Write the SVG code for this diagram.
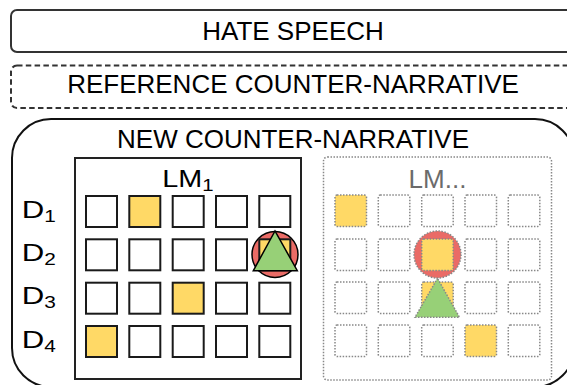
<svg xmlns="http://www.w3.org/2000/svg" width="567" height="385" viewBox="0 0 567 385">
<style>
.box{fill:#fff;stroke:#333;stroke-width:2}
.dashed{stroke-dasharray:5.5 3.3}
.big{stroke:#111;stroke-width:2;fill:#fff}
.t26{font-family:"Liberation Sans",Arial,Helvetica,sans-serif;font-size:26px;text-anchor:middle;fill:#000}
.lbl{font-family:"Liberation Sans",Arial,Helvetica,sans-serif;font-size:24px;fill:#000}
.cell{fill:#fff;stroke:#1a1a1a;stroke-width:2}
.dcell{fill:#fff;stroke:#888;stroke-width:1.5;stroke-dasharray:1.5 1.5}
.y{fill:#ffd966}
.red{fill:#ea6b66}
.green{fill:#97d077}
.solid{stroke:#000;stroke-width:1.5}
.dot{stroke:#888;stroke-width:1.5;stroke-dasharray:1.5 1.5}
</style>
<g id="hate-speech">
<rect class="box" x="11" y="10" width="564" height="42" rx="6"/>
<text class="t26" x="293" y="39.5">HATE SPEECH</text>
</g>
<g id="reference-counter-narrative">
<rect class="box dashed" x="11" y="65.5" width="564" height="42.5" rx="6"/>
<text class="t26" x="293" y="93.3">REFERENCE COUNTER-NARRATIVE</text>
</g>
<g id="new-counter-narrative">
<rect class="big" x="12" y="119" width="562" height="268" rx="39"/>
<text class="t26" x="293" y="148">NEW COUNTER-NARRATIVE</text>
</g>
<g id="labels">
<text class="lbl" transform="translate(21.8,217.5) scale(1.3,1)">D<tspan font-size="16" dy="4">1</tspan></text>
<text class="lbl" transform="translate(21.8,261) scale(1.3,1)">D<tspan font-size="16" dy="4">2</tspan></text>
<text class="lbl" transform="translate(21.8,304.3) scale(1.3,1)">D<tspan font-size="16" dy="4">3</tspan></text>
<text class="lbl" transform="translate(21.8,347.5) scale(1.3,1)">D<tspan font-size="16" dy="4">4</tspan></text>
</g>
<g id="lm1">
<rect x="75" y="158" width="226" height="221" fill="#fff" stroke="#222" stroke-width="2"/>
<text class="lbl" text-anchor="middle" font-size="23" transform="translate(188,186.5) scale(1.2,1)">LM<tspan font-size="17" dy="4.5">1</tspan></text>
<rect class="cell" x="86" y="196" width="31" height="31"/>
<rect class="cell y" x="129.3" y="196" width="31" height="31"/>
<rect class="cell" x="172.7" y="196" width="31" height="31"/>
<rect class="cell" x="216" y="196" width="31" height="31"/>
<rect class="cell" x="259.3" y="196" width="31" height="31"/>
<rect class="cell" x="86" y="239.3" width="31" height="31"/>
<rect class="cell" x="129.3" y="239.3" width="31" height="31"/>
<rect class="cell" x="172.7" y="239.3" width="31" height="31"/>
<rect class="cell" x="216" y="239.3" width="31" height="31"/>
<rect class="cell" x="86" y="282.7" width="31" height="31"/>
<rect class="cell" x="129.3" y="282.7" width="31" height="31"/>
<rect class="cell y" x="172.7" y="282.7" width="31" height="31"/>
<rect class="cell" x="216" y="282.7" width="31" height="31"/>
<rect class="cell" x="259.3" y="282.7" width="31" height="31"/>
<rect class="cell y" x="86" y="326" width="31" height="31"/>
<rect class="cell" x="129.3" y="326" width="31" height="31"/>
<rect class="cell" x="172.7" y="326" width="31" height="31"/>
<rect class="cell" x="216" y="326" width="31" height="31"/>
<rect class="cell" x="259.3" y="326" width="31" height="31"/>
<circle class="red solid" cx="275" cy="254.5" r="23"/>
<rect class="cell y" x="259.3" y="239.3" width="31" height="31"/>
<polygon class="green solid" points="275,231 253.3,270.7 297.3,270.7"/>
</g>
<g id="lm-more">
<rect x="323.5" y="157" width="228" height="223" rx="4" fill="#fff" class="dot"/>
<text class="t26" x="437.5" y="187.7" style="fill:#6b6b6b">LM...</text>
<rect class="dcell y" x="335" y="195" width="31.5" height="31.5" rx="2"/>
<rect class="dcell" x="378.3" y="195" width="31.5" height="31.5" rx="2"/>
<rect class="dcell" x="421.7" y="195" width="31.5" height="31.5" rx="2"/>
<rect class="dcell" x="465" y="195" width="31.5" height="31.5" rx="2"/>
<rect class="dcell" x="508.3" y="195" width="31.5" height="31.5" rx="2"/>
<rect class="dcell" x="335" y="239" width="31.5" height="31.5" rx="2"/>
<rect class="dcell" x="378.3" y="239" width="31.5" height="31.5" rx="2"/>
<rect class="dcell" x="465" y="239" width="31.5" height="31.5" rx="2"/>
<rect class="dcell" x="508.3" y="239" width="31.5" height="31.5" rx="2"/>
<rect class="dcell" x="335" y="282" width="31.5" height="31.5" rx="2"/>
<rect class="dcell" x="378.3" y="282" width="31.5" height="31.5" rx="2"/>
<rect class="dcell y" x="421.7" y="282" width="31.5" height="31.5" rx="2"/>
<rect class="dcell" x="465" y="282" width="31.5" height="31.5" rx="2"/>
<rect class="dcell" x="508.3" y="282" width="31.5" height="31.5" rx="2"/>
<rect class="dcell" x="335" y="325" width="31.5" height="31.5" rx="2"/>
<rect class="dcell" x="378.3" y="325" width="31.5" height="31.5" rx="2"/>
<rect class="dcell" x="421.7" y="325" width="31.5" height="31.5" rx="2"/>
<rect class="dcell y" x="465" y="325" width="31.5" height="31.5" rx="2"/>
<rect class="dcell" x="508.3" y="325" width="31.5" height="31.5" rx="2"/>
<circle class="red dot" cx="437.5" cy="254.5" r="23.5"/>
<rect class="dcell y" x="421.7" y="239" width="31.5" height="31.5" rx="2"/>
<polygon class="green dot" points="437.5,278.3 415,317.3 459.5,317.3"/>
</g>
</svg>
